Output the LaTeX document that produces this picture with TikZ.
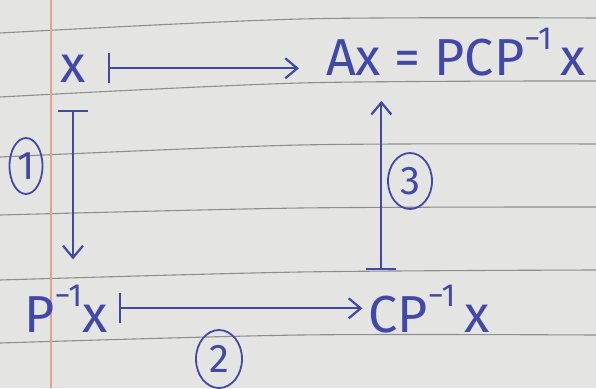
\documentclass[tikz,border=0pt]{standalone}
\usepackage{fontspec}
\setmainfont{Fira Sans}
\usetikzlibrary{arrows.meta, shapes.geometric, calc}
\definecolor{paper}{HTML}{E4E4E2}
\definecolor{rule}{HTML}{8E8E8E}
\definecolor{margin}{HTML}{E6A08C}
\definecolor{ink}{HTML}{4248A6}
\newcommand{\supinv}{\raisebox{0.5em}{\fontsize{32}{32}\selectfont −1}}
\tikzset{
  term/.style={text=ink, font=\fontsize{52}{60}\selectfont, inner sep=2pt},
  tag/.style={ellipse, draw=ink, line width=1.8pt, text=ink, inner sep=0pt,
              font=\fontsize{40}{44}\selectfont},
  mapsto/.style={{Bar[width=30pt, line width=2.2pt]}-{Straight Barb[length=12pt, width=20pt, line width=2.2pt]},
                 draw=ink, line width=2.2pt}
}

\begin{document}
\begin{tikzpicture}[x=1pt, y=-1pt]
  \fill[paper] (0,0) rectangle (596,388);
  \useasboundingbox (0,0) rectangle (596,388);
  % ruled paper
  \foreach \a/\b/\c in {33/19/18, 97/83/81, 157/145/144, 215/208/207, 280/272/270, 343/335/335}
    \draw[rule, line width=1.1pt] plot[smooth] coordinates {(0,\a) (300,\b) (596,\c)};
  \draw[margin, line width=1.2pt] (51,0) -- (51,388);

  \node[term, anchor=base] (x) at (73,82) {x};
  \node[term, anchor=base] (Ax) at (456,75) {Ax = PCP\supinv\,x};
  \node[term, anchor=base] (Px) at (66,332) {P\supinv x};
  \node[term, anchor=base] (CPx) at (429,332) {CP\supinv\,x};

  \node[tag, minimum width=33pt, minimum height=56pt] (one) at (26,166) {1};
  \node[tag, minimum width=46pt, minimum height=58pt] (two) at (219,359) {2};
  \node[tag, minimum width=44pt, minimum height=56pt] (three) at (410,181) {3};

  \draw[mapsto, shorten <=20pt, shorten >=25pt] (x.east) -- (x.east -| Ax.west);
  \draw[mapsto, shorten <=26pt, shorten >=23pt] (x.south) -- (x.south |- Px.north);
  \draw[mapsto, shorten <=9pt, shorten >=4pt] (Px.east) -- (Px.east -| CPx.west);
  \draw[mapsto, shorten <=12pt, shorten >=23pt] ([xshift=15pt]CPx.north west) -- ([xshift=15pt]CPx.north west |- Ax.south);
\end{tikzpicture}
\end{document}
